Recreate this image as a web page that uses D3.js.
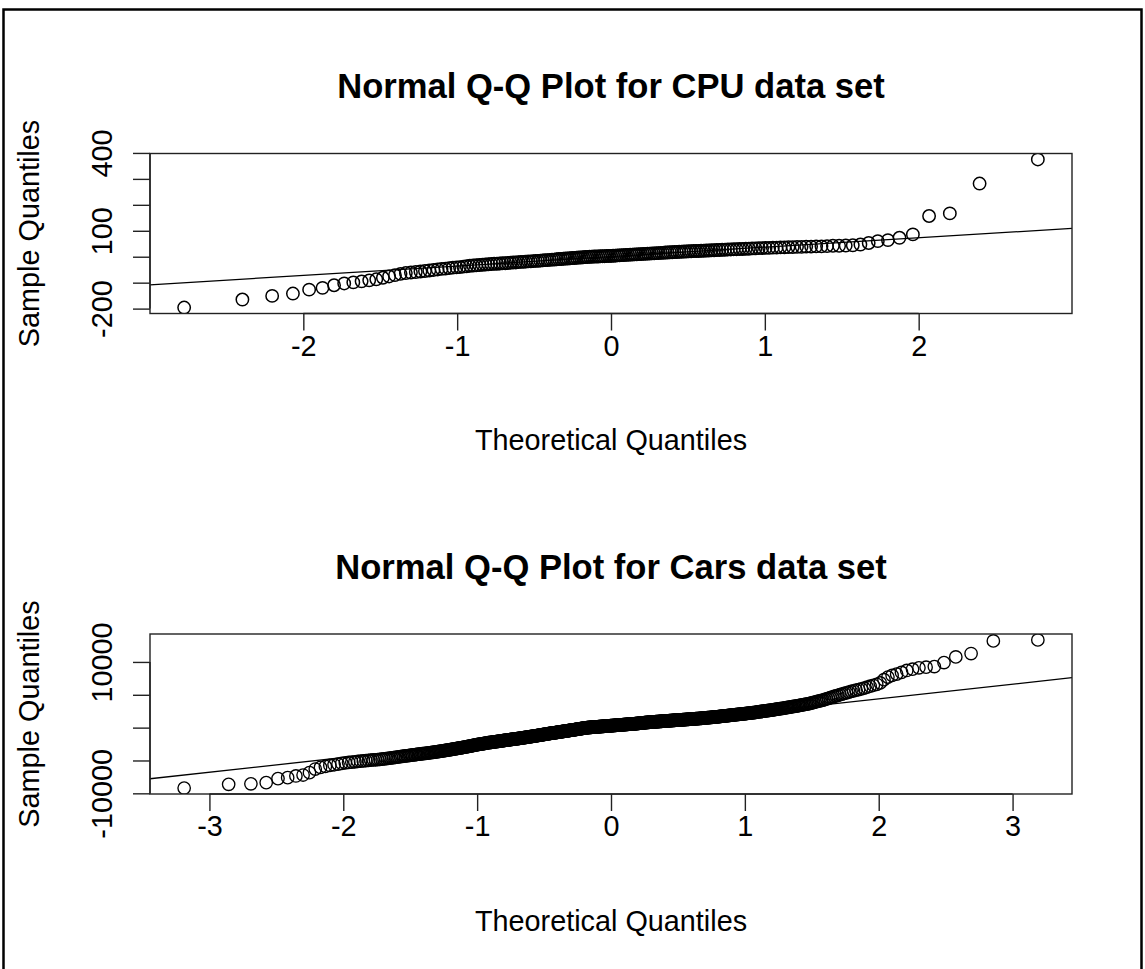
<!DOCTYPE html>
<html><head><meta charset="utf-8">
<script src="https://cdn.jsdelivr.net/npm/d3@7"></script>
<style>
body{margin:0;background:#fff}
text{font-family:"Liberation Sans",Arial,Helvetica,sans-serif;fill:#000}
</style></head>
<body><svg id="c" width="1145" height="969"></svg>
<script>
const cpuTitle = "Normal Q-Q Plot for CPU data set";
const carsTitle = "Normal Q-Q Plot for Cars data set";
const xLabel = "Theoretical Quantiles";
const yLabel = "Sample Quantiles";

// sorted sample quantiles
const cpuSample = [
-196,-165,-151,-142,-127,-120,-110,-103,-99,-95,
-91,-87,-81,-76,-71,-66,-63,-61,-59,-57,
-55,-53,-51,-49,-47,-46,-44,-42,-41,-40,
-38,-37,-35,-34,-33,-32,-31,-30,-29,-28,
-27,-27,-26,-25,-25,-24,-23,-22,-22,-21,
-20,-20,-19,-18,-18,-17,-16,-16,-15,-14,
-13,-13,-12,-11,-11,-10,-9,-9,-8,-7,
-7,-6,-5,-5,-4,-3,-3,-2,-1,-1,
0,0,1,1,1,2,2,2,3,3,
3,4,4,5,5,6,6,7,7,8,
8,9,9,10,10,11,11,12,12,13,
13,14,14,15,15,16,16,17,17,18,
18,19,19,20,20,21,21,22,22,22,
23,23,24,24,25,25,26,26,27,27,
28,28,29,29,30,30,31,31,32,32,
33,33,34,34,35,35,36,36,37,37,
38,38,39,39,40,40,41,42,42,43,
44,47,53,60,64,73,86,157,167,282,
375];

const carsSample = [
-9200,-8630,-8550,-8370,-7760,-7610,-7360,-7210,-6850,-6300,
-6050,-5900,-5750,-5650,-5550,-5450,-5350,-5300,-5250,-5200,
-5150,-5110,-5070,-5030,-4990,-4950,-4920,-4890,-4860,-4830,
-4800,-4760,-4720,-4680,-4640,-4600,-4560,-4520,-4480,-4440,
-4400,-4370,-4340,-4310,-4280,-4250,-4220,-4190,-4160,-4130,
-4100,-4075,-4050,-4025,-4000,-3975,-3950,-3925,-3900,-3875,
-3850,-3825,-3800,-3775,-3750,-3725,-3700,-3675,-3650,-3625,
-3600,-3575,-3550,-3525,-3500,-3475,-3450,-3425,-3400,-3375,
-3350,-3325,-3300,-3275,-3250,-3225,-3200,-3175,-3150,-3125,
-3100,-3075,-3050,-3025,-3000,-2975,-2950,-2925,-2900,-2875,
-2850,-2825,-2800,-2775,-2750,-2725,-2700,-2675,-2650,-2625,
-2600,-2580,-2560,-2540,-2520,-2500,-2480,-2460,-2440,-2420,
-2400,-2380,-2360,-2340,-2320,-2300,-2285,-2270,-2255,-2240,
-2225,-2210,-2195,-2180,-2165,-2150,-2135,-2120,-2105,-2090,
-2075,-2060,-2045,-2030,-2015,-2000,-1985,-1970,-1955,-1940,
-1925,-1912,-1898,-1885,-1871,-1858,-1845,-1831,-1818,-1804,
-1791,-1778,-1764,-1751,-1737,-1724,-1711,-1697,-1684,-1670,
-1657,-1644,-1630,-1617,-1603,-1590,-1577,-1563,-1550,-1536,
-1522,-1509,-1495,-1482,-1468,-1454,-1441,-1427,-1414,-1400,
-1386,-1373,-1359,-1346,-1332,-1318,-1305,-1291,-1278,-1264,
-1250,-1236,-1222,-1208,-1194,-1180,-1166,-1152,-1138,-1124,
-1110,-1096,-1082,-1068,-1054,-1040,-1026,-1012,-998,-984,
-970,-956,-942,-928,-914,-900,-888,-876,-864,-852,
-840,-828,-816,-804,-792,-780,-768,-756,-744,-732,
-720,-708,-696,-684,-672,-660,-648,-636,-624,-612,
-600,-588,-576,-564,-552,-540,-528,-516,-504,-492,
-480,-468,-456,-444,-432,-420,-408,-396,-384,-372,
-360,-348,-336,-324,-312,-300,-288,-276,-264,-252,
-240,-228,-216,-204,-192,-180,-168,-156,-144,-132,
-120,-108,-96,-84,-72,-60,-48,-36,-24,-12,
0,6,12,18,24,30,36,42,48,54,
60,66,72,78,84,90,96,102,108,114,
120,126,132,138,144,150,156,162,168,174,
180,186,192,198,204,210,216,222,228,234,
240,246,252,258,264,270,276,282,288,294,
300,306,312,318,324,330,336,342,348,354,
360,366,372,378,384,390,396,402,408,414,
420,426,432,438,444,450,456,462,468,474,
480,486,492,498,504,510,516,522,528,534,
540,546,552,558,564,570,576,582,588,594,
602,610,618,626,634,642,650,658,666,674,
682,690,698,706,714,722,730,738,746,754,
762,770,778,786,794,800,806,812,818,824,
830,836,842,848,854,860,866,872,878,884,
890,896,902,908,914,920,926,932,938,944,
950,956,962,968,974,980,986,992,998,1004,
1010,1016,1022,1028,1034,1040,1046,1052,1058,1064,
1070,1076,1082,1088,1094,1100,1106,1112,1118,1124,
1130,1136,1142,1148,1154,1160,1166,1172,1178,1184,
1190,1196,1202,1208,1214,1220,1226,1232,1238,1244,
1250,1257,1264,1271,1278,1285,1292,1299,1306,1313,
1320,1327,1334,1341,1348,1355,1362,1369,1376,1383,
1390,1397,1404,1411,1418,1425,1434,1443,1452,1461,
1470,1479,1488,1497,1506,1515,1524,1533,1542,1551,
1560,1569,1578,1587,1596,1605,1614,1623,1632,1641,
1650,1662,1674,1686,1698,1710,1722,1734,1746,1758,
1770,1782,1794,1806,1818,1830,1842,1854,1866,1878,
1890,1902,1914,1926,1938,1950,1963,1976,1989,2002,
2015,2028,2041,2054,2067,2080,2093,2106,2119,2132,
2150,2165,2180,2195,2210,2225,2240,2255,2270,2285,
2300,2320,2340,2360,2380,2400,2420,2440,2460,2480,
2500,2520,2540,2560,2580,2600,2620,2640,2660,2680,
2700,2725,2750,2775,2800,2825,2850,2875,2900,2925,
2950,2980,3010,3040,3070,3100,3130,3160,3190,3220,
3250,3285,3320,3355,3390,3425,3460,3495,3530,3565,
3600,3660,3720,3780,3840,3900,3960,4020,4080,4140,
4200,4290,4380,4470,4560,4650,4740,4830,4920,5010,
5100,5200,5300,5400,5500,5600,5700,5800,5900,6000,
6150,6300,6450,6600,6800,7300,7700,7950,8150,8400,
8700,8900,9100,9200,9300,9900,10760,11280,13200,13350];

const cpuXTicks = [-2,-1,0,1,2];
const cpuYTicks = [-200,-100,0,100,200,300,400];
const cpuYLabels = [-200,100,400];
const carsXTicks = [-3,-2,-1,0,1,2,3];
const carsYTicks = [-10000,-5000,0,5000,10000];
const carsYLabels = [-10000,10000];

// inverse normal CDF (Acklam)
function qnorm(p){
  const a=[-3.969683028665376e+01,2.209460984245205e+02,-2.759285104469687e+02,1.383577518672690e+02,-3.066479806614716e+01,2.506628277459239e+00];
  const b=[-5.447609879822406e+01,1.615858368580409e+02,-1.556989798598866e+02,6.680131188771972e+01,-1.328068155288572e+01];
  const c=[-7.784894002430293e-03,-3.223964580411365e-01,-2.400758277161838e+00,-2.549732539343734e+00,4.374664141464968e+00,2.938163982698783e+00];
  const d=[7.784695709041462e-03,3.224671290700398e-01,2.445134137142996e+00,3.754408661907416e+00];
  const pl=0.02425, ph=1-pl; let q,r;
  if(p<pl){q=Math.sqrt(-2*Math.log(p));return (((((c[0]*q+c[1])*q+c[2])*q+c[3])*q+c[4])*q+c[5])/((((d[0]*q+d[1])*q+d[2])*q+d[3])*q+1);}
  if(p<=ph){q=p-0.5;r=q*q;return (((((a[0]*r+a[1])*r+a[2])*r+a[3])*r+a[4])*r+a[5])*q/(((((b[0]*r+b[1])*r+b[2])*r+b[3])*r+b[4])*r+1);}
  q=Math.sqrt(-2*Math.log(1-p));return -(((((c[0]*q+c[1])*q+c[2])*q+c[3])*q+c[4])*q+c[5])/((((d[0]*q+d[1])*q+d[2])*q+d[3])*q+1);
}
function theoretical(n){
  const a = n<=10 ? 3/8 : 0.5;
  return d3.range(n).map(i => qnorm((i+1-a)/(n+1-2*a)));
}
function padded(ext){ const r=ext[1]-ext[0]; return [ext[0]-0.04*r, ext[1]+0.04*r]; }

const svg = d3.select("#c");
svg.append("rect").attr("width",1145).attr("height",969).attr("fill","#fff");
// outer frame
svg.append("path").attr("d","M3.5,975V9.5H1141.5V975").attr("fill","none").attr("stroke","#000").attr("stroke-width",2.5);

const L=150, R=1072, FS=28.8;
const fmt = d => String(d);   // plain hyphen-minus like R

function panel(id, top, title, sample, xTicks, yTicks, yLabels, sw){
  const bottom = top+160;
  const sorted = sample.slice().sort((a,b)=>a-b);
  const tq = theoretical(sorted.length);
  const x = d3.scaleLinear().domain(padded(d3.extent(tq))).range([L,R]);
  const y = d3.scaleLinear().domain(padded(d3.extent(sorted))).range([bottom,top]);
  const g = svg.append("g");
  g.append("clipPath").attr("id",id).append("rect").attr("x",L).attr("y",top).attr("width",R-L).attr("height",bottom-top);
  // points
  g.append("g").attr("clip-path",`url(#${id})`).selectAll("circle").data(sorted).join("circle")
    .attr("cx",(d,i)=>x(tq[i])).attr("cy",d=>y(d)).attr("r",6.2)
    .attr("fill","none").attr("stroke","#000").attr("stroke-width",sw);
  // qqline through quartiles
  const q1=d3.quantileSorted(sorted,0.25), q3=d3.quantileSorted(sorted,0.75);
  const z1=qnorm(0.25), z3=qnorm(0.75);
  const slope=(q3-q1)/(z3-z1), icpt=q1-slope*z1;
  const xd=x.domain();
  g.append("line").attr("clip-path",`url(#${id})`)
    .attr("x1",x(xd[0])).attr("y1",y(icpt+slope*xd[0]))
    .attr("x2",x(xd[1])).attr("y2",y(icpt+slope*xd[1]))
    .attr("stroke","#000").attr("stroke-width",1.3);
  // box
  g.append("rect").attr("x",L).attr("y",top).attr("width",R-L).attr("height",bottom-top)
    .attr("fill","none").attr("stroke","#222").attr("stroke-width",1.4);
  // x axis
  const xa = g.append("g").attr("transform",`translate(0,${bottom})`)
    .call(d3.axisBottom(x).tickValues(xTicks).tickSize(17).tickPadding(0).tickFormat(fmt));
  xa.select(".domain").attr("d",`M${x(xTicks[0])},0H${x(xTicks[xTicks.length-1])}`).attr("stroke","#222").attr("stroke-width",1.4);
  xa.selectAll(".tick line").attr("stroke","#222").attr("stroke-width",1.4);
  xa.selectAll(".tick text").attr("y",42).attr("dy",null).attr("font-size",FS).attr("font-family","Liberation Sans, Arial, sans-serif").attr("fill","#000");
  // y axis
  const ya = g.append("g").attr("transform",`translate(${L},0)`)
    .call(d3.axisLeft(y).tickValues(yTicks).tickSize(17).tickFormat(d => yLabels.includes(d) ? fmt(d) : ""));
  ya.select(".domain").attr("d",`M0,${y(yTicks[0])}V${y(yTicks[yTicks.length-1])}`).attr("stroke","#222").attr("stroke-width",1.4);
  ya.selectAll(".tick line").attr("stroke","#222").attr("stroke-width",1.4);
  ya.selectAll(".tick text").attr("x",null).attr("dy",null)
    .attr("transform","translate(-38,0) rotate(-90)").attr("text-anchor","middle")
    .attr("font-size",FS).attr("font-family","Liberation Sans, Arial, sans-serif").attr("fill","#000");
  // titles
  g.append("text").attr("x",(L+R)/2).attr("y",top-55.5).attr("text-anchor","middle")
    .attr("font-size",34.6).attr("font-weight","bold").text(title);
  g.append("text").attr("x",(L+R)/2).attr("y",bottom+136.5).attr("text-anchor","middle")
    .attr("font-size",FS).text(xLabel);
  g.append("text").attr("transform",`translate(38.5,${(top+bottom)/2}) rotate(-90)`).attr("text-anchor","middle")
    .attr("font-size",FS).text(yLabel);
}

panel("clipA",153.5,cpuTitle,cpuSample,cpuXTicks,cpuYTicks,cpuYLabels,1.5);
panel("clipB",634,carsTitle,carsSample,carsXTicks,carsYTicks,carsYLabels,1.35);
</script></body></html>
